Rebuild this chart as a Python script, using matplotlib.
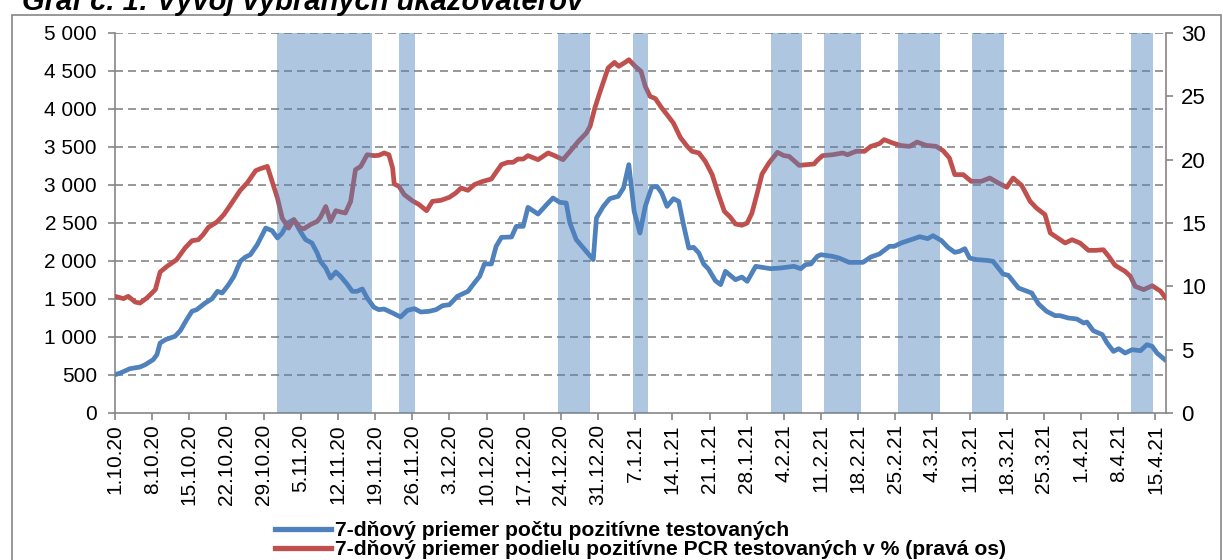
import numpy as np
import pandas as pd
import matplotlib
matplotlib.use('Agg')
import matplotlib.pyplot as plt
from matplotlib.patches import Rectangle

plt.rcParams['font.family'] = ['Liberation Sans', 'DejaVu Sans']

start = pd.Timestamp('2020-10-01')

# 7-day average of positive tests (days since 1.10.2020)
blue_day = [0, 1.0, 2.8, 4.7, 5.7, 7.2, 7.9, 8.5, 9.5, 11.3, 12.3, 13.5, 14.5, 15.4, 17.0, 18.3, 19.3, 20.2,
            21.4, 22.4, 23.6, 24.6, 25.5, 26.8, 28.4, 29.6, 30.6, 31.5, 32.5, 33.7, 34.9, 35.9, 37.1, 38.1,
            38.7, 39.7, 40.6, 41.6, 42.5, 43.8, 44.7, 45.6, 46.6, 47.5, 48.8, 49.7, 50.7, 52.3, 53.8, 55.1,
            56.4, 57.6, 59.2, 60.5, 61.7, 63.0, 64.5, 66.5, 67.7, 68.7, 69.6, 70.9, 71.8, 72.8, 74.7, 75.6,
            76.9, 77.8, 79.7, 81.3, 82.5, 83.8, 85.0, 85.7, 86.9, 88.5, 90.1, 90.7, 92.0, 93.2, 94.8, 95.8,
            96.8, 97.8, 98.9, 99.9, 101.1, 102.1, 103.0, 104.0, 105.2, 106.2, 107.1, 108.1, 109.0, 110.0,
            110.9, 111.8, 113.1, 114.1, 115.0, 116.9, 118.1, 119.1, 120.7, 121.9, 123.5, 125.4, 127.9, 129.2,
            130.1, 131.1, 132.3, 133.0, 135.2, 136.4, 138.3, 140.9, 142.4, 144.0, 145.9, 146.8, 148.1, 150.0,
            151.6, 153.1, 154.1, 155.7, 156.9, 158.2, 159.1, 160.1, 161.0, 162.3, 164.2, 165.4, 167.3, 168.3,
            170.2, 171.4, 172.7, 174.0, 175.5, 177.1, 178.0, 179.6, 181.2, 182.5, 183.1, 184.3, 186.0, 186.9,
            188.1, 189.1, 190.3, 191.6, 193.2, 194.4, 195.4, 196.3, 198]
blue_val = [504, 526, 583, 605, 636, 702, 768, 921, 965, 1009, 1083, 1228, 1338, 1360, 1447, 1504, 1601, 1579,
            1689, 1798, 1996, 2053, 2083, 2215, 2434, 2399, 2303, 2368, 2500, 2544, 2390, 2281, 2237, 2105,
            1996, 1908, 1776, 1855, 1798, 1689, 1601, 1601, 1632, 1513, 1390, 1360, 1368, 1316, 1263, 1351,
            1373, 1329, 1338, 1360, 1412, 1425, 1535, 1601, 1711, 1798, 1961, 1961, 2193, 2311, 2316, 2456,
            2456, 2706, 2618, 2741, 2829, 2772, 2763, 2500, 2281, 2149, 2018, 2566, 2719, 2820, 2851, 2961,
            3268, 2654, 2368, 2719, 2969, 2982, 2895, 2719, 2820, 2785, 2478, 2171, 2180, 2105,
            1961, 1895, 1741, 1689, 1864, 1754, 1789, 1732, 1930, 1917, 1899, 1908, 1930, 1899,
            1952, 1961, 2061, 2083, 2061, 2039, 1982, 1982, 2053, 2092, 2193, 2193, 2237, 2281,
            2320, 2294, 2333, 2268, 2180, 2114, 2127, 2162, 2039, 2018, 2009, 1996, 1829, 1811,
            1645, 1614, 1579, 1434, 1338, 1281, 1281, 1250, 1237, 1184, 1197, 1083, 1031, 921,
            811, 846, 789, 833, 820, 899, 877, 789, 689]

# 7-day average share of positive PCR tests in % (right axis)
red_day = [0, 1.6, 2.5, 3.8, 4.7, 6.0, 7.6, 8.5, 9.8, 11.6, 13.2, 14.5, 15.7, 16.6, 17.6, 19.2, 20.5, 22.0,
           23.6, 24.9, 26.5, 27.4, 28.7, 29.6, 30.6, 31.5, 32.7, 33.7, 34.9, 35.6, 36.8, 38.1, 38.7, 39.7,
           40.6, 41.6, 42.5, 43.4, 44.4, 45.3, 46.3, 47.5, 48.8, 49.7, 50.7, 51.6, 52.3, 52.6, 53.5, 54.5,
           56.0, 57.3, 58.7, 59.8, 61.4, 63.0, 64.2, 65.2, 66.5, 67.7, 69.3, 70.9, 72.8, 74.0, 75.0, 75.9,
           76.9, 77.8, 79.7, 81.6, 82.8, 84.4, 86.0, 87.3, 88.8, 89.5, 90.4, 91.3, 92.9, 94.1, 94.9, 96.1,
           96.8, 98.0, 99.1, 99.9, 100.8, 101.8, 103.0, 104.0, 105.2, 106.5, 107.8, 108.7, 110.0, 111.2,
           112.5, 113.7, 114.8, 115.9, 116.9, 118.1, 119.1, 120.0, 121.0, 121.9, 123.2, 124.8, 126.0, 127.0,
           128.9, 130.4, 131.7, 132.3, 133.3, 135.2, 137.1, 138.0, 139.6, 141.2, 142.4, 144.0, 144.9, 146.5,
           148.1, 149.7, 151.1, 152.8, 154.7, 156.0, 157.2, 158.2, 159.8, 161.3, 163.2, 164.8, 166.4, 168.0,
           169.2, 170.8, 172.4, 173.6, 175.2, 176.2, 177.4, 179.0, 180.3, 181.8, 183.4, 184.7, 186.2, 187.2,
           188.4, 190.3, 191.3, 192.2, 193.8, 195.4, 197.0, 198]
red_val = [9.21, 9.03, 9.21, 8.76, 8.68, 9.08, 9.74, 11.13, 11.58, 12.1, 13.03, 13.6, 13.68, 14.08, 14.66, 15.08,
           15.66, 16.58, 17.58, 18.16, 19.13, 19.29, 19.47, 18.29, 16.97, 15.39, 14.6, 15.26, 14.6, 14.55,
           14.87, 15.13, 15.45, 16.3, 15.13, 15.97, 15.87, 15.79, 16.71, 19.21, 19.47, 20.39, 20.32, 20.34,
           20.53, 20.39, 19.34, 18.08, 17.89, 17.24, 16.76, 16.45, 15.97, 16.71, 16.79, 17.03, 17.37, 17.76,
           17.58, 18.03, 18.29, 18.47, 19.61, 19.79, 19.79, 20.05, 20.05, 20.32, 20.0, 20.53, 20.32, 20.0,
           20.79, 21.45, 22.1, 22.63, 24.08, 25.26, 27.24, 27.68, 27.37, 27.68, 27.89, 27.37, 26.97, 25.79,
           25.0, 24.82, 24.08, 23.55, 22.89, 21.76, 21.05, 20.66, 20.53, 19.87, 18.82, 17.24, 15.92, 15.47,
           14.92, 14.82, 15.0, 15.79, 17.37, 18.87, 19.74, 20.58, 20.32, 20.26, 19.55, 19.61, 19.66, 19.95,
           20.32, 20.39, 20.53, 20.39, 20.66, 20.66, 21.05, 21.26, 21.58, 21.32, 21.11, 21.05, 21.39, 21.13,
           21.05, 20.71, 20.13, 18.82, 18.82, 18.29, 18.29, 18.55, 18.16, 17.82, 18.55, 17.97, 16.71, 16.18,
           15.66, 14.21, 13.87, 13.42, 13.68, 13.42, 12.84, 12.84, 12.89, 12.37, 11.66, 11.18, 10.79, 10.0,
           9.74, 10.05, 9.61, 9.03]

# shaded periods (first day, last day)
shade_start = ['2020-11-01', '2020-11-24', '2020-12-24', '2021-01-07', '2021-02-02',
               '2021-02-12', '2021-02-26', '2021-03-12', '2021-04-11']
shade_end = ['2020-11-18', '2020-11-26', '2020-12-29', '2021-01-09', '2021-02-07',
             '2021-02-18', '2021-03-05', '2021-03-17', '2021-04-14']

label_blue = '7-dňový priemer počtu pozitívne testovaných'
label_red = '7-dňový priemer podielu pozitívne PCR testovaných v % (pravá os)'
title = 'Graf č. 1: Vývoj vybraných ukazovateľov'

gray = '#868686'
W, H = 1223, 560
fig = plt.figure(figsize=(W / 100, H / 100), dpi=100)
ax = fig.add_axes([115 / W, 1 - 413 / H, (1166 - 115) / W, (413 - 33) / H])
ax2 = ax.twinx()

ax.plot(blue_day, blue_val, color='#4F81BD', lw=3.4, solid_joinstyle='round', solid_capstyle='round', zorder=3)
ax2.plot(red_day, red_val, color='#C0504D', lw=3.4, solid_joinstyle='round', solid_capstyle='round', zorder=3)

for s, e in zip(shade_start, shade_end):
    d0 = (pd.Timestamp(s) - start).days - 0.5
    d1 = (pd.Timestamp(e) - start).days + 0.5
    ax2.axvspan(d0, d1, color='#4F81BD', alpha=0.45, lw=0, zorder=5)

ax.set_xlim(0, 198)
ax.set_ylim(0, 5000)
ax2.set_ylim(0, 30)

yt = np.arange(0, 5001, 500)
ax.set_yticks(yt)
ax.set_yticklabels([f'{v:,}'.replace(',', ' ') for v in yt])
ax2.set_yticks(np.arange(0, 31, 5))

xt = np.arange(0, 197, 7)
ax.set_xticks(xt)
ax.set_xticklabels([f'{d.day}.{d.month}.{d.year % 100}' for d in (start + pd.to_timedelta(xt, unit='D'))],
                   rotation=90)

for y in yt[1:]:
    ax.axhline(y, color=gray, lw=1.2, dashes=(4.8, 3), zorder=1)

for a in (ax, ax2):
    a.spines['top'].set_visible(False)
    for sp in a.spines.values():
        sp.set_color(gray)
        sp.set_linewidth(1.2)
    a.tick_params(colors=gray, labelcolor='black', labelsize=15, length=5, width=1.2)
ax.spines['right'].set_visible(False)
ax2.spines['left'].set_visible(False)
ax2.spines['bottom'].set_visible(False)
ax.tick_params(axis='y', pad=8)
ax2.tick_params(axis='y', pad=6, labelsize=16)
ax.tick_params(axis='x', pad=3)

# outer frame
fig.patches.append(Rectangle((12 / W, -0.01), (1221 - 12) / W, 1 - 15 / H + 0.01, transform=fig.transFigure,
                             fill=False, edgecolor=gray, lw=1.2))

fig.text(22 / W, 1 - 10 / H, title, fontsize=21, fontweight='bold', fontstyle='italic', va='baseline')

h1, = ax.plot([], [], color='#4F81BD', lw=3.8)
h2, = ax.plot([], [], color='#C0504D', lw=3.8)
fig.legend([h1, h2], [label_blue, label_red], loc='upper left', bbox_to_anchor=(275 / W, 1 - 521 / H),
           frameon=False, borderpad=0, borderaxespad=0, handlelength=2.65, handletextpad=0.2,
           labelspacing=0.0, prop={'size': 15.2, 'weight': 'bold'})

fig.savefig('out.png', dpi=100)
